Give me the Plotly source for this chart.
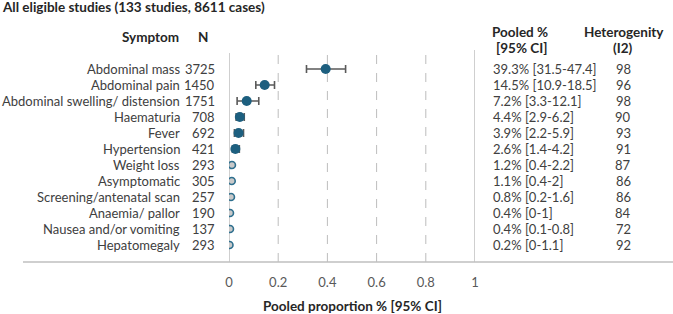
import plotly.graph_objects as go

symptoms = ["Abdominal mass", "Abdominal pain", "Abdominal swelling/ distension", "Haematuria",
            "Fever", "Hypertension", "Weight loss", "Asymptomatic", "Screening/antenatal scan",
            "Anaemia/ pallor", "Nausea and/or vomiting", "Hepatomegaly"]
n_cases = [3725, 1450, 1751, 708, 692, 421, 293, 305, 257, 190, 137, 293]
pooled = [39.3, 14.5, 7.2, 4.4, 3.9, 2.6, 1.2, 1.1, 0.8, 0.4, 0.4, 0.2]
ci_low = [31.5, 10.9, 3.3, 2.9, 2.2, 1.4, 0.4, 0.4, 0.2, 0, 0.1, 0]
ci_high = [47.4, 18.5, 12.1, 6.2, 5.9, 4.2, 2.2, 2, 1.6, 1, 0.8, 1.1]
i2 = [98, 96, 98, 90, 93, 91, 87, 86, 86, 84, 72, 92]
filled = [True, True, True, True, True, True, False, False, False, False, False, False]
xticks = [0, 0.2, 0.4, 0.6, 0.8, 1]

W, H = 673, 314
L, R = 229, 475
T, B = 53, 262
row0, dy = 69, 16

def px(p):
    return (p - L) / (R - L)

rows = list(range(len(symptoms)))
prop = [p / 100 for p in pooled]
lo = [l / 100 for l in ci_low]
hi = [h / 100 for h in ci_high]

FONT = "Lato"
TXT = "#404040"
TEAL = "#1d5f7f"

fig = go.Figure()

for sel, fillc, linec, size in [(True, TEAL, TEAL, 10), (False, "#c9c9c9", "#2e6f8e", 7)]:
    idx = [i for i in rows if filled[i] == sel]
    fig.add_trace(go.Scatter(
        x=[prop[i] for i in idx], y=[i for i in idx], mode="markers",
        marker=dict(size=size, color=fillc, line=dict(color=linec, width=1.6 if not sel else 0)),
        error_x=dict(type="data", symmetric=False,
                     array=[hi[i] - prop[i] for i in idx],
                     arrayminus=[prop[i] - lo[i] for i in idx],
                     color="#5a5a5a", thickness=1.6, width=4,
                     visible=sel),
        showlegend=False, hoverinfo="skip"))

shapes = []
for v in xticks[1:-1]:
    shapes.append(dict(type="line", xref="x", yref="paper", x0=v, x1=v, y0=0, y1=1,
                       line=dict(color="#bdbdbd", width=1, dash="dash"), layer="below"))
for v in [0, 1]:
    shapes.append(dict(type="line", xref="x", yref="paper", x0=v, x1=v, y0=0, y1=1 + (3 / (B - T) if v == 1 else 0),
                       line=dict(color="#bfbfbf", width=1.5), layer="below"))
shapes.append(dict(type="line", xref="paper", yref="paper", x0=px(23), x1=px(673), y0=0, y1=0,
                   line=dict(color="#bfbfbf", width=1.5)))

ann = []
for i in rows:
    ann.append(dict(x=px(182), y=i, xref="paper", yref="y", text=symptoms[i], showarrow=False,
                    xanchor="right", font=dict(size=13, color=TXT, family=FONT)))
    ann.append(dict(x=px(217), y=i, xref="paper", yref="y", text=str(n_cases[i]), showarrow=False,
                    xanchor="right", font=dict(size=13, color=TXT, family=FONT)))
    ann.append(dict(x=px(491), y=i, xref="paper", yref="y",
                    text=f"{pooled[i]:g}% [{ci_low[i]:g}-{ci_high[i]:g}]", showarrow=False,
                    xanchor="left", font=dict(size=13, color=TXT, family=FONT)))
    ann.append(dict(x=px(623), y=i, xref="paper", yref="y", text=str(i2[i]), showarrow=False,
                    xanchor="center", font=dict(size=13, color=TXT, family=FONT)))

def hdr(x, y, text, anchor="center", size=13.5):
    ann.append(dict(x=px(x), y=(B - y) / (B - T), xref="paper", yref="paper",
                    text=f"<b>{text}</b>", showarrow=False, xanchor=anchor, yanchor="middle",
                    font=dict(size=size, color="#262626", family=FONT)))

hdr(0, 7, "All eligible studies (133 studies, 8611 cases)", anchor="left", size=13.5)
hdr(150, 37, "Symptom")
hdr(203, 37, "N")
hdr(520, 32, "Pooled %")
hdr(521, 48, "[95% CI]")
hdr(624, 32, "Heterogenity")
hdr(623, 48, "(I2)")
hdr(352, 306, "Pooled proportion % [95% CI]")

fig.update_layout(
    width=W, height=H,
    margin=dict(l=L, r=W - R, t=T, b=H - B, pad=0),
    paper_bgcolor="white", plot_bgcolor="white",
    xaxis=dict(range=[0, 1], tickvals=xticks, ticktext=[f"{v:g}" for v in xticks],
               showgrid=False, zeroline=False, showline=False,
               ticks="outside", ticklen=8, tickcolor="rgba(0,0,0,0)",
               tickfont=dict(size=13, color="#595959", family=FONT)),
    yaxis=dict(range=[(B - row0) / dy, (T - row0) / dy], showticklabels=False,
               showgrid=False, zeroline=False, showline=False),
    shapes=shapes, annotations=ann,
)

fig.write_html("out.html")
